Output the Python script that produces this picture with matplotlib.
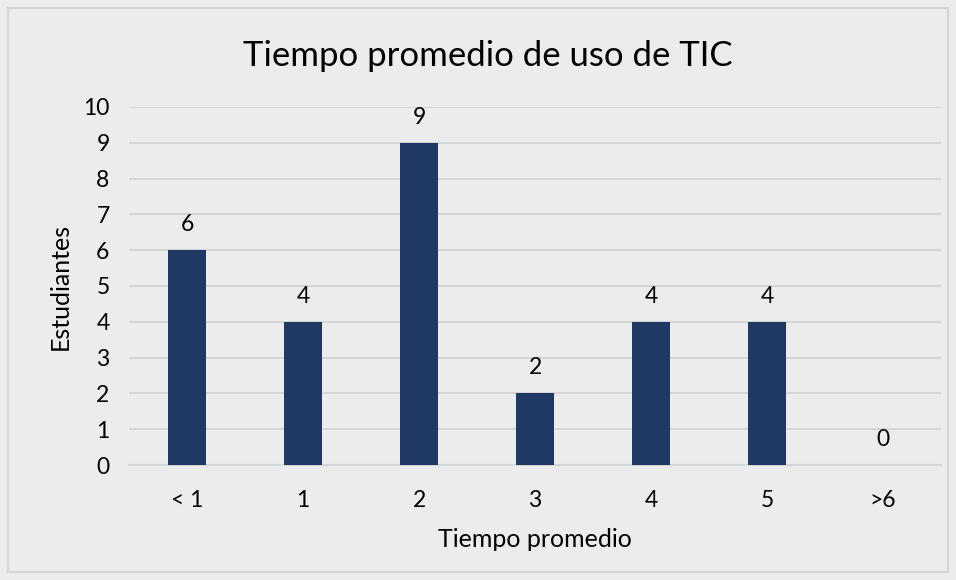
import matplotlib.pyplot as plt
import numpy as np

# data
categories = ["< 1", "1", "2", "3", "4", "5", ">6"]
students = [6, 4, 9, 2, 4, 4, 0]
y_ticks = list(range(0, 11))

plt.rcParams['font.family'] = ['Lato', 'DejaVu Sans']

bg = "#ececec"
fig = plt.figure(figsize=(9.56, 5.8), dpi=100, facecolor=bg)

# outer chart border
border = plt.Rectangle((8 / 956, 8 / 580), 940 / 956, 564 / 580, transform=fig.transFigure,
                       fill=False, edgecolor="#d4d4d4", linewidth=1.5)
fig.patches.append(border)

ax = fig.add_axes([129 / 956, 1 - 465 / 580, 812 / 956, 358 / 580])
ax.set_facecolor(bg)

x = np.arange(len(categories))
bars = ax.bar(x, students, width=0.32, color="#203864", zorder=3)
for xi, v in zip(x, students):
    ax.text(xi, v + 0.42, str(v), ha="center", va="bottom", fontsize=16.5, color="#000000")

ax.set_xlim(-0.5, len(categories) - 0.5)
ax.set_ylim(0, 10)
ax.set_yticks(y_ticks)
ax.set_xticks(x)
ax.set_xticklabels(categories)
ax.tick_params(axis="both", length=0, labelsize=16.5, colors="#000000")
ax.tick_params(axis="y", pad=14)
ax.tick_params(axis="x", pad=18)
ax.yaxis.grid(True, color="#d6d6d6", linewidth=1.5, zorder=0)
for s in ["top", "right", "left"]:
    ax.spines[s].set_visible(False)
ax.spines["bottom"].set_color("#d6d6d6")
ax.spines["bottom"].set_linewidth(1.5)

ax.set_xlabel("Tiempo promedio", fontsize=18, labelpad=12)
ax.set_ylabel("Estudiantes", fontsize=18, labelpad=8)
fig.text(488 / 956, 1 - 56 / 580, "Tiempo promedio de uso de TIC", ha="center", va="center", fontsize=25)

fig.savefig("out.png", dpi=100, facecolor=bg)
